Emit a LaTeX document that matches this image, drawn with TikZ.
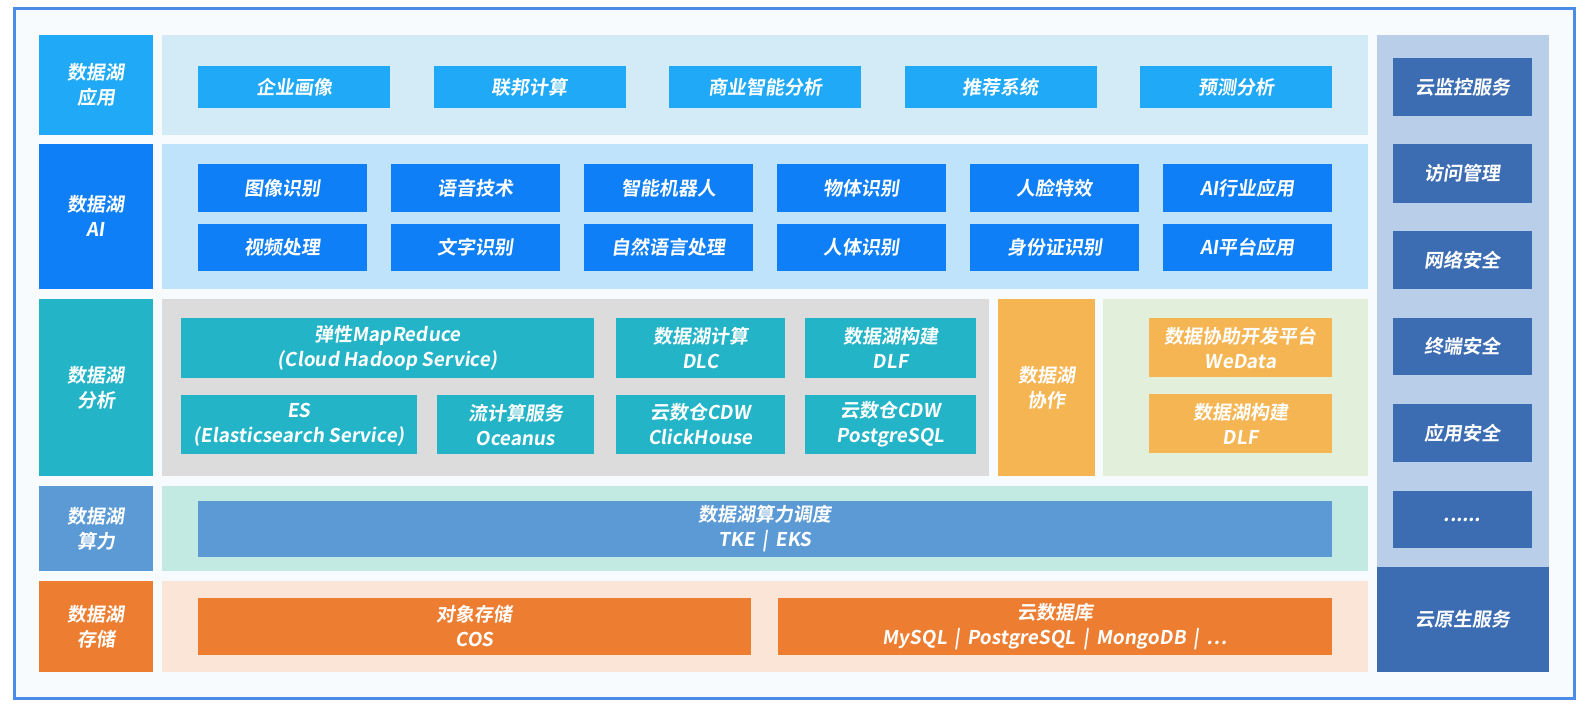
\documentclass[tikz,border=0pt]{standalone}
\usepackage{fontspec}
\setmainfont{Noto Sans CJK SC}[FakeSlant=0.14,BoldFont={* Bold},BoldFeatures={FakeSlant=0.14}]
\definecolor{framec}{HTML}{4A8CE8}
\definecolor{framebg}{HTML}{F7FBFE}
\definecolor{appc}{HTML}{1FA9F6}
\definecolor{apppanel}{HTML}{D3EAF7}
\definecolor{aic}{HTML}{0E7FF6}
\definecolor{aipanel}{HTML}{BEE3FA}
\definecolor{anac}{HTML}{23B4C7}
\definecolor{anapanel}{HTML}{DCDCDC}
\definecolor{coopc}{HTML}{F5B553}
\definecolor{cooppanel}{HTML}{E2EFDA}
\definecolor{compc}{HTML}{5B9AD5}
\definecolor{comppanel}{HTML}{C3E9E3}
\definecolor{storc}{HTML}{ED7D31}
\definecolor{storpanel}{HTML}{FBE5D7}
\definecolor{sidec}{HTML}{3C6DB3}
\definecolor{sidepanel}{HTML}{B9CEE8}
\begin{document}
\begin{tikzpicture}[x=1pt,y=-1pt,
  txt/.style={text=white,font=\bfseries\fontsize{19}{25}\selectfont,align=center,inner sep=0pt}]
\useasboundingbox (0,0) rectangle (1588,714);
% Outer frame
\draw[line width=3pt,draw=framec,fill=framebg] (14,9) rectangle (1574,698);

% Layer 1: application
\fill[appc] (39,35) rectangle (153,135);
\node[txt] (appLabel) at (96,85) {数据湖\\应用};
\fill[apppanel] (162,35) rectangle (1368,135);
\fill[appc] (198,66) rectangle (390,108);
\node[txt] (app1) at (294,87) {企业画像};
\fill[appc] (433.5,66) rectangle (625.5,108);
\node[txt] (app2) at (529.5,87) {联邦计算};
\fill[appc] (669,66) rectangle (861,108);
\node[txt] (app3) at (765,87) {商业智能分析};
\fill[appc] (904.5,66) rectangle (1096.5,108);
\node[txt] (app4) at (1000.5,87) {推荐系统};
\fill[appc] (1140,66) rectangle (1332,108);
\node[txt] (app5) at (1236,87) {预测分析};

% Layer 2: AI
\fill[aic] (39,144) rectangle (153,289);
\node[txt] (aiLabel) at (96,216) {数据湖\\AI};
\fill[aipanel] (162,144) rectangle (1368,289);
\fill[aic] (198,164) rectangle (367,212);
\node[txt] (ai1) at (282.5,188) {图像识别};
\fill[aic] (391,164) rectangle (560,212);
\node[txt] (ai2) at (475.5,188) {语音技术};
\fill[aic] (584,164) rectangle (753,212);
\node[txt] (ai3) at (668.5,188) {智能机器人};
\fill[aic] (777,164) rectangle (946,212);
\node[txt] (ai4) at (861.5,188) {物体识别};
\fill[aic] (970,164) rectangle (1139,212);
\node[txt] (ai5) at (1054.5,188) {人脸特效};
\fill[aic] (1163,164) rectangle (1332,212);
\node[txt] (ai6) at (1247.5,188) {AI行业应用};
\fill[aic] (198,224) rectangle (367,271);
\node[txt] (ai7) at (282.5,247.5) {视频处理};
\fill[aic] (391,224) rectangle (560,271);
\node[txt] (ai8) at (475.5,247.5) {文字识别};
\fill[aic] (584,224) rectangle (753,271);
\node[txt] (ai9) at (668.5,247.5) {自然语言处理};
\fill[aic] (777,224) rectangle (946,271);
\node[txt] (ai10) at (861.5,247.5) {人体识别};
\fill[aic] (970,224) rectangle (1139,271);
\node[txt] (ai11) at (1054.5,247.5) {身份证识别};
\fill[aic] (1163,224) rectangle (1332,271);
\node[txt] (ai12) at (1247.5,247.5) {AI平台应用};

% Layer 3: analysis and cooperation
\fill[anac] (39,299) rectangle (153,476);
\node[txt] (anaLabel) at (96,388) {数据湖\\分析};
\fill[anapanel] (162,299) rectangle (989,476);
\fill[anac] (181,318) rectangle (594,378);
\node[txt] (emr) at (387.5,348) {弹性MapReduce\\(Cloud Hadoop Service)};
\fill[anac] (616,318) rectangle (785,378);
\node[txt] (dlc) at (700.5,348) {数据湖计算\\DLC};
\fill[anac] (805,318) rectangle (976,378);
\node[txt] (dlfA) at (890.5,348) {数据湖构建\\DLF};
\fill[anac] (181,395) rectangle (417,454);
\node[txt] (es) at (299,424.5) {ES\\(Elasticsearch Service)};
\fill[anac] (437,395) rectangle (594,454);
\node[txt] (oceanus) at (515.5,424.5) {流计算服务\\Oceanus};
\fill[anac] (616,395) rectangle (785,454);
\node[txt] (cdwCk) at (700.5,424.5) {云数仓CDW\\ClickHouse};
\fill[anac] (805,395) rectangle (976,454);
\node[txt] (cdwPg) at (890.5,424.5) {云数仓CDW\\PostgreSQL};
\fill[coopc] (998,299) rectangle (1095,476);
\node[txt] (coopLabel) at (1046.5,388) {数据湖\\协作};
\fill[cooppanel] (1103,299) rectangle (1368,476);
\fill[coopc] (1149,318) rectangle (1332,377);
\node[txt] (wedata) at (1240.5,347.5) {数据协助开发平台\\WeData};
\fill[coopc] (1149,394) rectangle (1332,453);
\node[txt] (dlfB) at (1240.5,423.5) {数据湖构建\\DLF};

% Layer 4: computing power
\fill[compc] (39,486) rectangle (153,571);
\node[txt] (compLabel) at (96,528.5) {数据湖\\算力};
\fill[comppanel] (162,486) rectangle (1368,571);
\fill[compc] (198,501) rectangle (1332,557);
\node[txt] (sched) at (765,529) {数据湖算力调度\\TKE \,|\, EKS};

% Layer 5: storage
\fill[storc] (39,581) rectangle (153,672);
\node[txt] (storLabel) at (96,626.5) {数据湖\\存储};
\fill[storpanel] (162,581) rectangle (1368,672);
\fill[storc] (198,598) rectangle (751,655);
\node[txt] (cos) at (474.5,626.5) {对象存储\\COS};
\fill[storc] (778,598) rectangle (1332,655);
\node[txt] (clouddb) at (1055,626.5) {云数据库\\MySQL \,|\, PostgreSQL \,|\, MongoDB \,|\, …};

% Right column: cloud services
\fill[sidepanel] (1377,35) rectangle (1549,567);
\fill[sidec] (1393,58) rectangle (1532,116);
\node[txt] (side1) at (1462.5,87) {云监控服务};
\fill[sidec] (1393,144) rectangle (1532,203);
\node[txt] (side2) at (1462.5,173.5) {访问管理};
\fill[sidec] (1393,231) rectangle (1532,289);
\node[txt] (side3) at (1462.5,260) {网络安全};
\fill[sidec] (1393,318) rectangle (1532,375);
\node[txt] (side4) at (1462.5,346.5) {终端安全};
\fill[sidec] (1393,404) rectangle (1532,462);
\node[txt] (side5) at (1462.5,433) {应用安全};
\fill[sidec] (1393,491) rectangle (1532,548);
\node[txt] (side6) at (1462.5,519.5) {......};
\fill[sidec] (1377,567) rectangle (1549,672);
\node[txt] (native) at (1463,619.5) {云原生服务};
\end{tikzpicture}
\end{document}
